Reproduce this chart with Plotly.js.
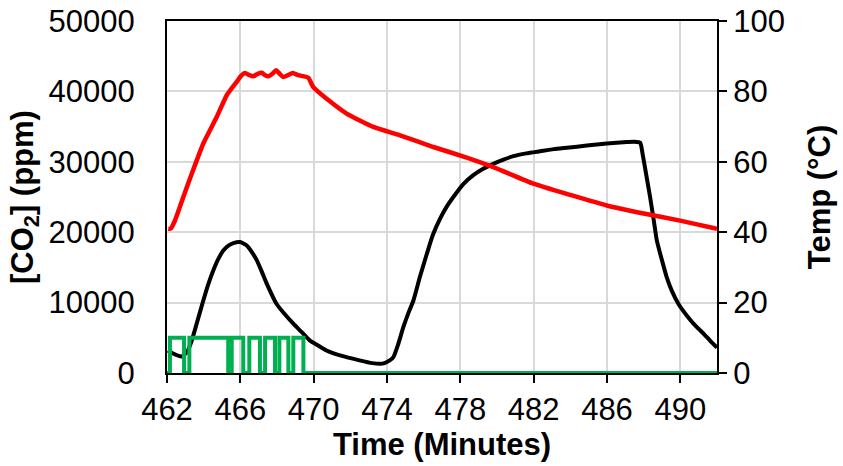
<!DOCTYPE html>
<html>
<head>
<meta charset="utf-8">
<script src="https://cdn.plot.ly/plotly-3.0.1.min.js"></script>
<style>html,body{margin:0;padding:0;background:#fff;}#chart{width:843px;height:466px;}</style>
</head>
<body>
<div id="chart"></div>
<script>
// CO2 concentration (ppm), left axis
var co2Time = [462.05, 462.3, 462.8, 463.1, 463.35, 463.65, 463.98, 464.25, 464.53, 464.8, 465.07, 465.35, 465.62, 465.98, 466.35, 466.62, 466.9, 467.17, 467.44, 467.98, 468.44, 468.89, 469.35, 469.8, 470.25, 470.7, 471.44, 472.5, 473.2, 473.62, 473.9, 474.15, 474.35, 474.6, 474.89, 475.15, 475.44, 475.8, 476.17, 476.5, 476.89, 477.25, 477.62, 478.15, 478.71, 479.25, 479.8, 480.35, 480.89, 481.6, 482.35, 483.1, 483.81, 484.9, 485.99, 487.08, 487.5, 487.81, 487.95, 488.15, 488.35, 488.55, 488.72, 489.0, 489.26, 489.55, 489.9, 490.4, 490.9, 491.3, 491.62, 492.0];
var co2Values = [3200, 2800, 2350, 3000, 4600, 7300, 10300, 12600, 14600, 16200, 17400, 18100, 18450, 18600, 18100, 17200, 16000, 14400, 12700, 9800, 8300, 7000, 5800, 4600, 3900, 3200, 2500, 1800, 1400, 1300, 1450, 1800, 2250, 4000, 6500, 8400, 10300, 13700, 16900, 19600, 21900, 23600, 25000, 26800, 28100, 29000, 29700, 30300, 30800, 31200, 31500, 31800, 32000, 32300, 32600, 32800, 32850, 32700, 31000, 28000, 25000, 21700, 18800, 16000, 13600, 11600, 9800, 8000, 6500, 5500, 4600, 3600];

// Temperature (°C), right axis
var tempTime = [462.07, 462.2, 462.44, 462.89, 463.35, 463.98, 464.71, 465.26, 465.8, 466.05, 466.26, 466.5, 466.71, 466.95, 467.17, 467.35, 467.53, 467.75, 467.95, 468.15, 468.34, 468.6, 468.86, 469.15, 469.44, 469.71, 469.98, 470.71, 471.8, 473.25, 474.71, 476.53, 478.35, 479.8, 481.98, 484.0, 485.99, 488.0, 489.99, 491.62, 492.0];
var tempValues = [41.0, 41.0, 43.4, 50.0, 56.6, 65.2, 72.7, 78.9, 82.7, 84.5, 85.2, 84.6, 84.3, 85.0, 85.3, 84.6, 84.3, 85.0, 86.0, 85.0, 84.1, 84.6, 85.2, 84.6, 84.3, 83.9, 81.2, 77.9, 73.7, 69.9, 67.5, 64.2, 61.2, 58.5, 53.8, 50.6, 47.6, 45.3, 43.3, 41.4, 41.0];

// Heater on/off signal (plotted at 5000 ppm when on)
var heaterTime = [462.0, 462.16, 462.93, 463.22, 465.34, 465.53, 466.16, 466.49, 467.07, 467.35, 467.89, 468.13, 468.62, 468.89, 469.44, 492.0];
var heaterValues = [0, 5000, 0, 5000, 0, 5000, 0, 5000, 0, 5000, 0, 5000, 0, 5000, 0, 0];

// Axis ticks
var xTicks = [462, 466, 470, 474, 478, 482, 486, 490];
var y1Ticks = [0, 10000, 20000, 30000, 40000, 50000];
var y2Ticks = [0, 20, 40, 60, 80, 100];

var font = 'Liberation Sans, Arial, sans-serif';

var traces = [
  {x: co2Time, y: co2Values, type: 'scatter', mode: 'lines', yaxis: 'y',
   line: {color: '#000000', width: 4, shape: 'spline', smoothing: 0.5}, hoverinfo: 'skip'},
  {x: heaterTime, y: heaterValues, type: 'scatter', mode: 'lines', yaxis: 'y',
   line: {color: '#00b050', width: 4, shape: 'hv'}, hoverinfo: 'skip'},
  {x: tempTime, y: tempValues, type: 'scatter', mode: 'lines', yaxis: 'y2',
   line: {color: '#ff0000', width: 4.5, shape: 'spline', smoothing: 0.5}, hoverinfo: 'skip'}
];

var layout = {
  width: 843, height: 466,
  margin: {l: 167, r: 126, t: 21, b: 93, pad: 0},
  paper_bgcolor: '#ffffff', plot_bgcolor: '#ffffff',
  showlegend: false,
  font: {family: font, size: 31, color: '#000000'},
  xaxis: {
    range: [462, 492], tickvals: xTicks, ticktext: xTicks.map(String),
    showgrid: true, gridcolor: '#d9d9d9', gridwidth: 2,
    showline: true, linecolor: '#000000', linewidth: 2, mirror: true,
    ticks: 'outside', ticklen: 8, tickwidth: 2, tickcolor: '#000000',
    zeroline: false, tickfont: {size: 31},
    title: {text: '<b>Time (Minutes)</b>', font: {size: 31}, standoff: 4}
  },
  yaxis: {
    range: [0, 50000], tickvals: y1Ticks, ticktext: y1Ticks.map(String),
    showgrid: true, gridcolor: '#d9d9d9', gridwidth: 2,
    showline: true, linecolor: '#000000', linewidth: 2,
    ticks: 'outside', ticklen: 24, tickwidth: 2, tickcolor: 'rgba(0,0,0,0)',
    zeroline: false, tickfont: {size: 31},
    title: {text: '<b>[CO<sub>2</sub>] (ppm)</b>', font: {size: 31}, standoff: 6}
  },
  yaxis2: {
    range: [0, 100], tickvals: y2Ticks, ticktext: y2Ticks.map(String),
    overlaying: 'y', side: 'right', showgrid: false,
    showline: true, linecolor: '#000000', linewidth: 2,
    ticks: 'outside', ticklen: 8, tickwidth: 2, tickcolor: '#000000',
    zeroline: false, tickfont: {size: 31},
    title: {text: '<b>Temp (°C)</b>', font: {size: 31}, standoff: 24}
  }
};

Plotly.newPlot('chart', traces, layout, {staticPlot: true, displayModeBar: false});
</script>
</body>
</html>
